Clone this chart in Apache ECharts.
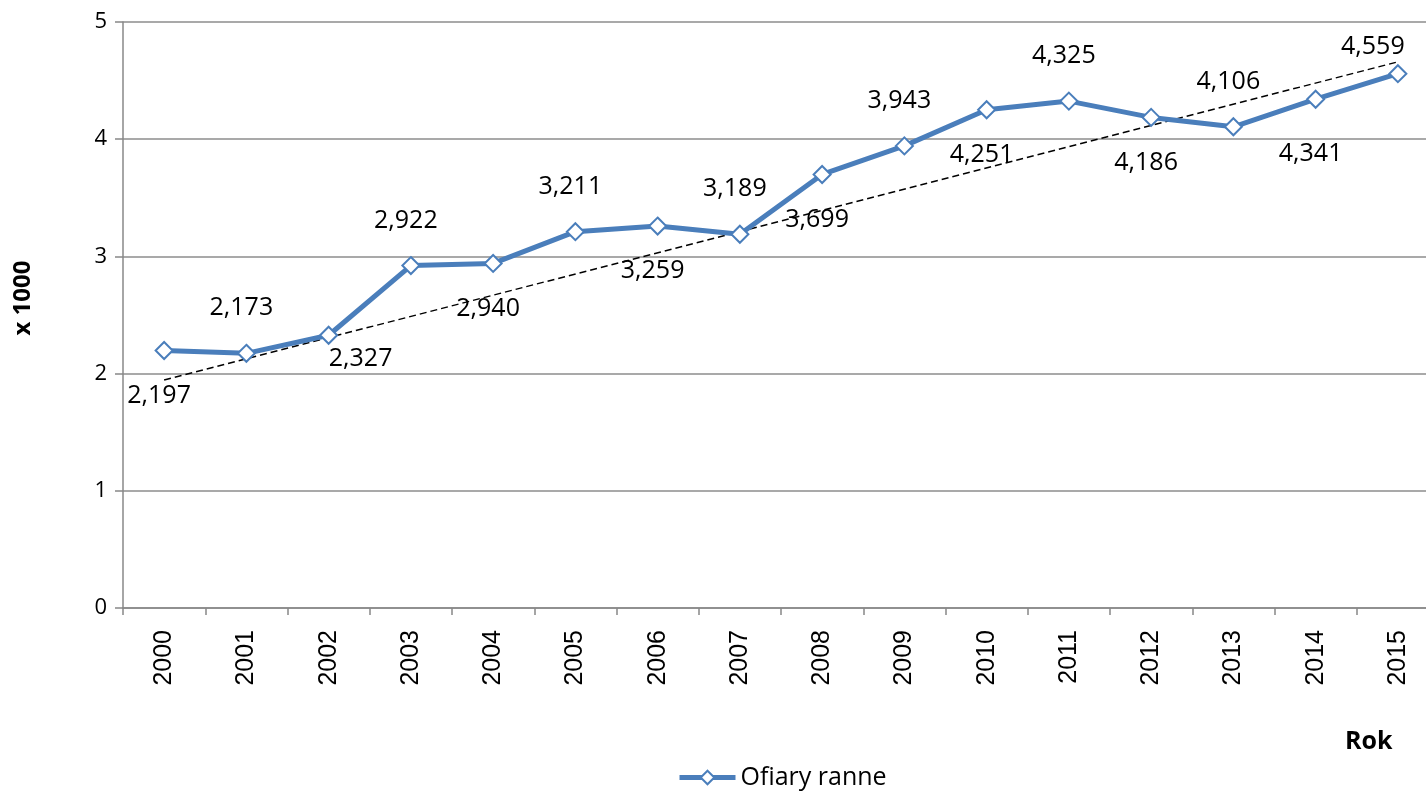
<!DOCTYPE html>
<html>
<head>
<meta charset="utf-8">
<script src="https://cdn.jsdelivr.net/npm/echarts@6/dist/echarts.min.js"></script>
<style>
  html, body { margin: 0; padding: 0; background: #fff; overflow: hidden; }
  /* plot runs a bit past the right edge of the picture, as in the original */
  #chart { width: 1439px; height: 792px; }
</style>
</head>
<body>
<div id="chart"></div>
<script>
// data
const years = ['2000', '2001', '2002', '2003', '2004', '2005', '2006', '2007',
  '2008', '2009', '2010', '2011', '2012', '2013', '2014', '2015']
const ofiaryRanne = [2.197, 2.173, 2.327, 2.922, 2.940, 3.211, 3.259, 3.189,
  3.699, 3.943, 4.251, 4.325, 4.186, 4.106, 4.341, 4.559]
const trendYears = ['2000', '2015']
const trendValues = [1.945, 4.66]
const yTicks = [0, 1, 2, 3, 4, 5]

const blue = '#4a7ebb'
const font = '"Open Sans", sans-serif'

// a few labels were dragged by hand in the original
const labelNudge = { '2002': [32, -21], '2014': [-5, 10], '2015': [-25, 18] }

const chart = echarts.init(document.getElementById('chart'))

// labels alternate below / above the points
const lineData = ofiaryRanne.map((v, i) => ({
  value: v,
  label: {
    position: i % 2 === 0 ? 'bottom' : 'top',
    offset: labelNudge[years[i]] || [-5, 0]
  }
}))

chart.setOption({
  animation: false,
  grid: { left: 123, top: 22, right: 0, bottom: 184 },
  legend: {
    left: 672, top: 760,
    itemWidth: 56, itemHeight: 17, itemGap: 6,
    data: ['Ofiary ranne'],
    lineStyle: { width: 5 },
    textStyle: { fontFamily: font, fontSize: 25, color: '#000' }
  },
  xAxis: {
    type: 'category',
    data: years,
    boundaryGap: true,
    axisLine: { lineStyle: { color: '#888', width: 1.5 } },
    axisTick: { show: true, length: 7, lineStyle: { color: '#888', width: 1.5 } },
    axisLabel: {
      rotate: 90, margin: 22, color: '#000',
      fontFamily: '"Liberation Sans", Arial, sans-serif', fontSize: 25
    }
  },
  yAxis: {
    type: 'value',
    min: yTicks[0], max: yTicks[yTicks.length - 1], interval: 1,
    axisLine: { show: true, lineStyle: { color: '#888', width: 1.5 } },
    axisTick: { show: true, length: 8, lineStyle: { color: '#888', width: 1.5 } },
    axisLabel: { margin: 16, fontFamily: font, fontSize: 22, color: '#000' },
    splitLine: { lineStyle: { color: '#8c8c8c', width: 1.5 } }
  },
  graphic: [
    {
      type: 'text', x: 23, y: 298, rotation: Math.PI / 2,
      style: {
        text: 'x 1000', fontFamily: font, fontSize: 24, fontWeight: 'bold', fill: '#000',
        align: 'center', verticalAlign: 'middle'
      }
    },
    {
      type: 'text', left: 1345, top: 729,
      style: { text: 'Rok', fontFamily: font, fontSize: 25, fontWeight: 'bold', fill: '#000' }
    }
  ],
  series: [
    {
      name: 'trend',
      type: 'line',
      data: trendYears.map((y, i) => [y, trendValues[i]]),
      symbol: 'none',
      silent: true,
      lineStyle: { color: '#000', width: 1.5, type: [7, 4] },
      z: 1
    },
    {
      name: 'Ofiary ranne',
      type: 'line',
      data: lineData,
      symbol: 'diamond',
      symbolSize: 17,
      showAllSymbol: true,
      itemStyle: { color: '#fff', borderColor: blue, borderWidth: 2 },
      lineStyle: { color: blue, width: 5 },
      label: {
        show: true,
        distance: 23,
        fontFamily: font, fontSize: 25, color: '#000',
        formatter: p => p.value.toFixed(3).replace('.', ',')
      },
      z: 3
    }
  ]
})
</script>
</body>
</html>
